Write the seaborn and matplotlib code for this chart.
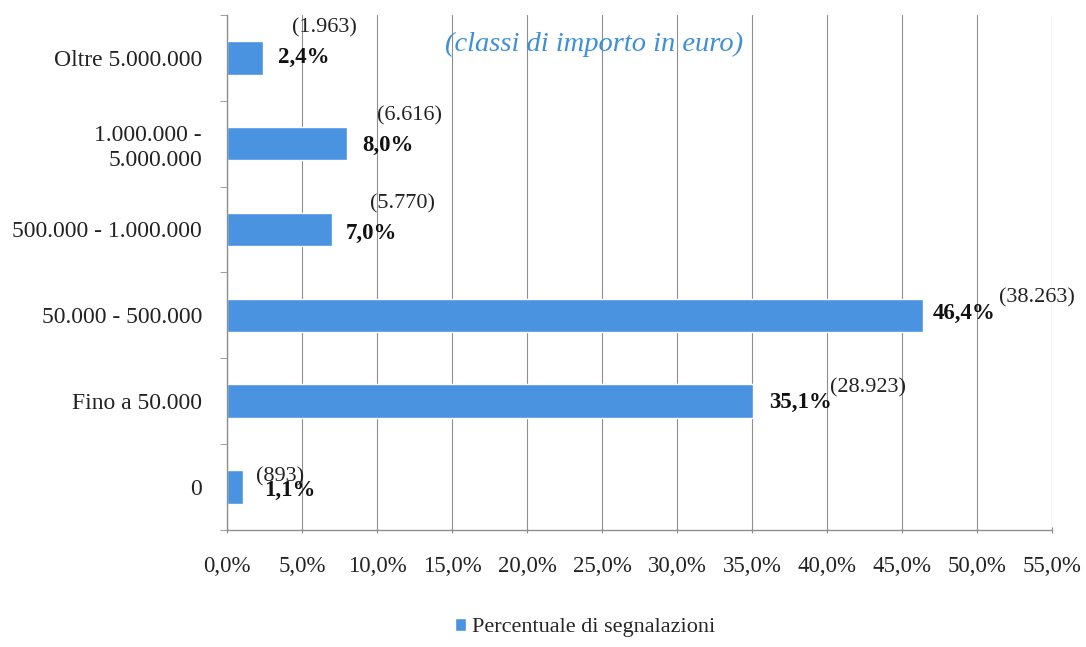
import numpy as np
import pandas as pd
import matplotlib.pyplot as plt
import seaborn as sns
from matplotlib.ticker import FuncFormatter, FixedLocator

# data (top to bottom)
classi = ['Oltre 5.000.000', '1.000.000 -\n5.000.000', '500.000 - 1.000.000',
          '50.000 - 500.000', 'Fino a 50.000', '0']
percentuali = [2.4, 8.0, 7.0, 46.4, 35.1, 1.1]
segnalazioni = ['1.963', '6.616', '5.770', '38.263', '28.923', '893']

df = pd.DataFrame({'classe': classi, 'perc': percentuali})

sns.set_style('white')
plt.rcParams['font.family'] = ['Liberation Serif', 'DejaVu Serif']

fig = plt.figure(figsize=(10.86, 6.47), dpi=100)
ax = fig.add_axes([0.209, 0.181, 0.7597, 0.796])

bar_col = '#4a93e0'
sns.barplot(data=df, x='perc', y='classe', orient='h', color=bar_col,
            width=0.39, saturation=1, ax=ax, label='Percentuale di segnalazioni')

ax.set_xlim(0, 55)
ax.set_ylim(5.5, -0.5)
ax.set_xticks(np.arange(0, 56, 5))
ax.xaxis.set_major_formatter(FuncFormatter(lambda v, p: f'{v:.1f}%'.replace('.', ',')))
ax.grid(axis='x', color='#8f8f8f', linewidth=0.8)
ax.set_axisbelow(True)
ax.set_xlabel('')
ax.set_ylabel('')

for s in ['top', 'right']:
    ax.spines[s].set_visible(False)
for s in ['left', 'bottom']:
    ax.spines[s].set_color('#8f8f8f')
    ax.spines[s].set_linewidth(1.0)

ax.tick_params(axis='x', labelsize=16.5, bottom=True, length=5, color='#8f8f8f',
               direction='inout', pad=16, labelcolor='#222222')
ax.tick_params(axis='y', labelsize=17, length=0, pad=18, labelcolor='#222222')
ax.yaxis.set_minor_locator(FixedLocator(np.arange(-0.5, 5.6, 1)))
ax.tick_params(axis='y', which='minor', left=True, length=5, color='#8f8f8f', direction='out')
for lbl in ax.get_yticklabels():
    lbl.set_horizontalalignment('right')
    lbl.set_multialignment('right')
    lbl.set_linespacing(1.25)

# label offsets in pixels: (pct dx, pct dy, count dx, count dy)
offs = [(15, 0, 29, 30), (15, -2, 30, 28), (14, -4, 38, 26),
        (10, 2, 76, 17), (16, -1, 77, 13), (21, -3, 13, 10)]
for i, (p, n) in enumerate(zip(percentuali, segnalazioni)):
    pdx, pdy, cdx, cdy = offs[i]
    ax.annotate(f'{p:.1f}%'.replace('.', ','), (p, i), xytext=(pdx, pdy),
                textcoords='offset pixels', ha='left', va='center',
                fontsize=16.5, fontweight='bold', color='#111111')
    ax.annotate(f'({n})', (p, i), xytext=(cdx, cdy),
                textcoords='offset pixels', ha='left', va='center',
                fontsize=16, color='#222222')

ax.text(0.445, 0.942, '(classi di importo in euro)', transform=ax.transAxes,
        ha='center', va='center', fontsize=20.5, style='italic', color='#3d8fd9')

leg = ax.legend(loc='center', bbox_to_anchor=(0.434, -0.19), frameon=False,
                fontsize=16, handlelength=0.5, handleheight=0.5, handletextpad=0.3)

fig.savefig('out.png', dpi=100)
